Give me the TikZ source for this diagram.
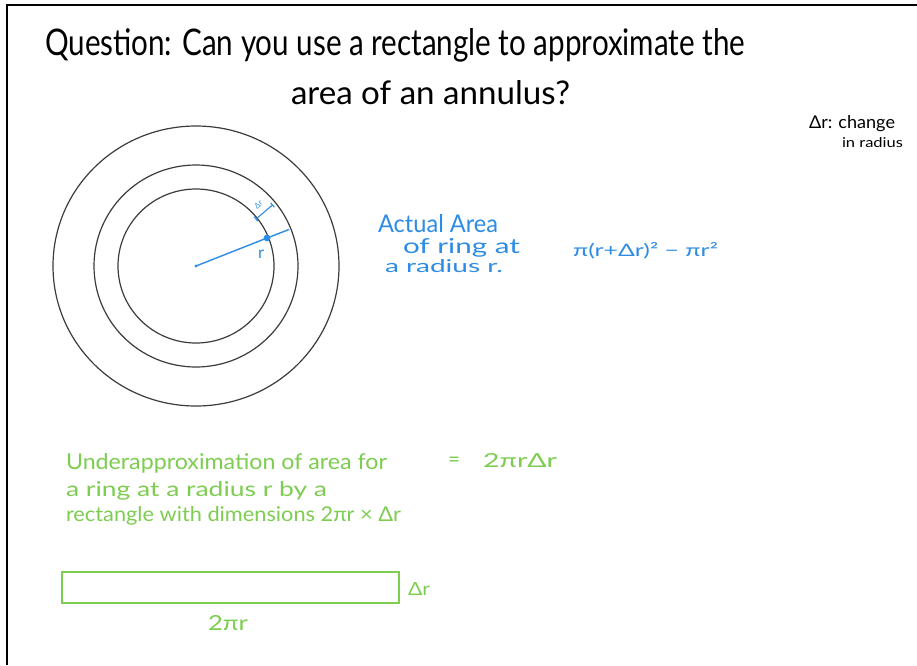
\documentclass[tikz,border=0pt]{standalone}
\usepackage{fontspec}
\usepackage{graphicx}
\setmainfont{Lato}
\definecolor{inkblue}{RGB}{45,140,230}
\definecolor{inkgreen}{RGB}{125,205,80}
\definecolor{ringgrey}{RGB}{60,60,60}
\newcommand{\fitw}[2]{\resizebox{#1}{!}{#2}}
\newcommand{\fitwh}[3]{\resizebox{#1}{#2}{#3}}
\begin{document}
\begin{tikzpicture}[x=1pt,y=-1pt,
  every node/.style={inner sep=0pt, outer sep=0pt},
  txt/.style={anchor=base west},
  ring/.style={draw=ringgrey, line width=1.2pt},
  bluetxt/.style={txt, text=inkblue},
  greentxt/.style={txt, text=inkgreen},
  blueline/.style={draw=inkblue, line width=1.4pt},
  greenbox/.style={draw=inkgreen, line width=1.6pt}]
\useasboundingbox (0,0) rectangle (917,665);
\fill[white] (0,0) rectangle (917,665);
% frame
\coordinate (fTR) at (917,5);
\coordinate (fTL) at (7,5);
\coordinate (fBL) at (7,665);
\draw[line width=2pt] (fTR) -- (fTL) -- (fBL);
% title
\node[txt] (q1) at (45,55) {\fitwh{700pt}{27pt}{Question: Can you use a rectangle to approximate the}};
\node[txt] (q2) at (291,104) {\fitwh{279pt}{24pt}{area of an annulus?}};
% note
\node[txt] (n1) at (809,128) {\fitwh{86pt}{13pt}{Δr: change}};
\node[txt] (n2) at (842,147) {\fitwh{61pt}{10pt}{in radius}};
% rings
\coordinate (c) at (196,266);
\draw[ring] (c) ellipse [x radius=143, y radius=140];
\draw[ring] (c) ellipse [x radius=102, y radius=101];
\draw[ring] (c) ellipse [x radius=78, y radius=77];
% radius r
\coordinate (pin) at (267,238);
\coordinate (pout) at (289,229.5);
\draw[blueline] (c) -- (pin) -- (pout);
\fill[inkblue] (c) circle (1.6);
\fill[inkblue] (pin) circle (3.4);
\node[bluetxt] (rlab) at (258,258) {\fitw{6pt}{r}};
% delta r bracket
\coordinate (da) at (256,219);
\coordinate (db) at (272.5,205);
\coordinate (da1) at (254.1,216.7);
\coordinate (da2) at (257.9,221.3);
\coordinate (db1) at (270.6,202.7);
\coordinate (db2) at (274.4,207.3);
\draw[blueline, line width=1.1pt] (da) -- (db);
\draw[blueline, line width=1.1pt] (da1) -- (da2);
\draw[blueline, line width=1.1pt] (db1) -- (db2);
\node[bluetxt, rotate=40] (drlab) at (257,209) {\fitw{8pt}{Δr}};
% blue text
\node[bluetxt] (b1) at (378,232) {\fitwh{120pt}{18pt}{Actual Area}};
\node[bluetxt] (b2) at (403,253) {\fitwh{117pt}{15pt}{of ring at}};
\node[bluetxt] (b3) at (385,272) {\fitwh{118pt}{13pt}{a radius r.}};
\node[bluetxt] (bf) at (573,256) {\fitwh{145pt}{14pt}{π(r+Δr)² − πr²}};
% green text
\node[greentxt] (g1) at (66,469) {\fitwh{321pt}{16pt}{Underapproximation of area for}};
\node[greentxt] (g2) at (66,496) {\fitwh{261pt}{15pt}{a ring at a radius r by a}};
\node[greentxt] (g3) at (66,521) {\fitwh{335pt}{15pt}{rectangle with dimensions 2πr × Δr}};
\node[greentxt] (geq) at (448,466) {\fitw{12pt}{=}};
\node[greentxt] (gres) at (483,467) {\fitwh{74pt}{14pt}{2πrΔr}};
% rectangle
\coordinate (r1) at (62,572);
\coordinate (r2) at (399,603);
\draw[greenbox] (r1) rectangle (r2);
\node[greentxt] (rh) at (408,595) {\fitwh{22pt}{13pt}{Δr}};
\node[greentxt] (rw) at (208,630) {\fitwh{40pt}{15pt}{2πr}};
\end{tikzpicture}
\end{document}
